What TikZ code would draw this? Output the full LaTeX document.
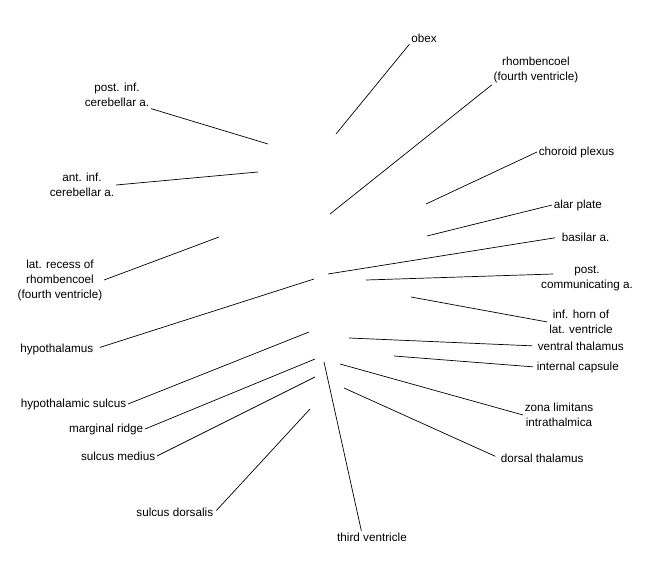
\documentclass[tikz,border=0pt]{standalone}
\usepackage{fontspec}
\setmainfont{Liberation Sans}

\begin{document}
\begin{tikzpicture}[x=1pt, y=-1pt, every node/.style={inner sep=1.5pt, align=center, font=\fontsize{11.7}{15}\selectfont}, every path/.style={line width=0.7pt}]
    \useasboundingbox (0, 0) rectangle (650, 580);

    \node (obex) at (424, 38) {obex};
    \node (rhomb) at (536, 70) {rhombencoel\\(fourth ventricle)};
    \node[anchor=west] (choroid) at (537, 152) {choroid plexus};
    \node[anchor=west] (alar) at (552, 205) {alar plate};
    \node[anchor=west] (basilar) at (560, 237) {basilar a.};
    \node (pcom) at (587, 278) {post.\\communicating a.};
    \node (infhorn) at (581, 322) {inf. horn of\\lat. ventricle};
    \node[anchor=west] (vthal) at (536, 346) {ventral thalamus};
    \node[anchor=west] (intcap) at (535, 367) {internal capsule};
    \node (zona) at (559, 415) {zona limitans\\intrathalmica};
    \node[anchor=west] (dthal) at (499, 458) {dorsal thalamus};
    \node (third) at (372, 537) {third ventricle};
    \node[anchor=east] (sdors) at (215, 512) {sulcus dorsalis};
    \node[anchor=east] (smed) at (157, 456) {sulcus medius};
    \node[anchor=east] (mridge) at (145, 429) {marginal ridge};
    \node[anchor=east] (hsulc) at (128, 404) {hypothalamic sulcus};
    \node[anchor=east] (hypo) at (95, 349) {hypothalamus};
    \node (latrec) at (60, 280) {lat. recess of\\rhombencoel\\(fourth ventricle)};
    \node (aica) at (82, 185) {ant. inf.\\cerebellar a.};
    \node (pica) at (117, 95) {post. inf.\\cerebellar a.};

    \coordinate (obex-in) at (336, 134);
    \coordinate (rhomb-in) at (330, 214);
    \coordinate (choroid-in) at (426, 204);
    \coordinate (alar-in) at (427, 236);
    \coordinate (basilar-in) at (328, 274);
    \coordinate (pcom-in) at (366, 280);
    \coordinate (infhorn-in) at (411, 297);
    \coordinate (vthal-in) at (349, 338);
    \coordinate (intcap-in) at (394, 356);
    \coordinate (zona-in) at (340, 364);
    \coordinate (dthal-in) at (344, 388);
    \coordinate (third-in) at (324, 362);
    \coordinate (sdors-in) at (310, 409);
    \coordinate (smed-in) at (315, 377);
    \coordinate (mridge-in) at (315, 359);
    \coordinate (hsulc-in) at (309, 332);
    \coordinate (hypo-in) at (314, 279);
    \coordinate (latrec-in) at (219, 237);
    \coordinate (aica-in) at (258, 172);
    \coordinate (pica-in) at (268, 144);

    \draw (obex.south west) -- (obex-in);
    \draw (rhomb.south west) -- (rhomb-in);
    \draw (choroid.west) -- (choroid-in);
    \draw (alar.west) -- (alar-in);
    \draw[shorten <=5pt] (basilar.west) -- (basilar-in);
    \draw ([shift={(14pt, 4pt)}]pcom.west) -- (pcom-in);
    \draw (infhorn.west) -- (infhorn-in);
    \draw[shorten <=4pt] (vthal.west) -- (vthal-in);
    \draw[shorten <=2pt] (intcap.west) -- (intcap-in);
    \draw (zona.west) -- (zona-in);
    \draw[shorten <=4pt] (dthal.west) -- (dthal-in);
    \draw (third.150) -- (third-in);
    \draw[shorten <=2pt] (sdors.east) -- (sdors-in);
    \draw (smed.east) -- (smed-in);
    \draw (mridge.east) -- (mridge-in);
    \draw (hsulc.east) -- (hsulc-in);
    \draw[shorten <=5pt] (hypo.east) -- (hypo-in);
    \draw (latrec.east) -- (latrec-in);
    \draw (aica.east) -- (aica-in);
    \draw (pica.south east) -- (pica-in);
\end{tikzpicture}
\end{document}
